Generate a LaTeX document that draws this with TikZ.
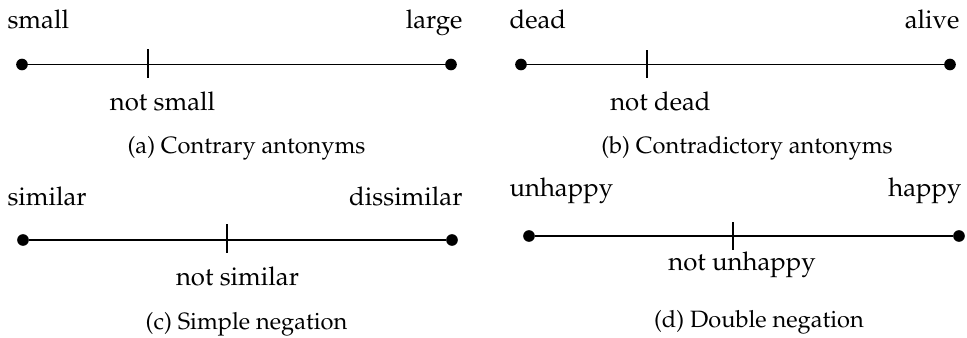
\documentclass[tikz,border=0pt]{standalone}
\usepackage[T1]{fontenc}
\usepackage{mathpazo}
\begin{document}
\begin{tikzpicture}[x=0.377pt,y=-0.377pt,
  dotnode/.style={circle,fill=black,inner sep=0pt,minimum size=4.4pt},
  lbl/.style={inner sep=0pt,font=\fontsize{9.7}{11.6}\selectfont},
  captext/.style={inner sep=0pt,font=\fontsize{8.9}{10.7}\selectfont},
  axis/.style={line width=0.4pt},
  tickmark/.style={line width=0.4pt}]
\useasboundingbox (0,0) rectangle (967,338);
% (a)
\node[dotnode] (a1) at (22,64.5) {};
\node[dotnode] (a2) at (451,64.5) {};
\draw[axis] (a1) -- (a2);
\coordinate (at1) at (148,49); \coordinate (at2) at (148,78);
\draw[tickmark] (at1) -- (at2);
\node[lbl,anchor=base west] (al) at (7,29) {small};
\node[lbl,anchor=base east] (ar) at (463,29) {large};
\node[lbl,anchor=base] (am) at (162.5,111) {not small};
\node[captext,anchor=base] (ac) at (246.5,153) {(a) Contrary antonyms};
% (b)
\node[dotnode] (b1) at (521,64.5) {};
\node[dotnode] (b2) at (950,64.5) {};
\draw[axis] (b1) -- (b2);
\coordinate (bt1) at (647,50); \coordinate (bt2) at (647,78);
\draw[tickmark] (bt1) -- (bt2);
\node[lbl,anchor=base west] (bl) at (509,29) {dead};
\node[lbl,anchor=base east] (br) at (960,29) {alive};
\node[lbl,anchor=base] (bm) at (660.5,111) {not dead};
\node[captext,anchor=base] (bc) at (747,153) {(b) Contradictory antonyms};
% (c)
\node[dotnode] (c1) at (23,240) {};
\node[dotnode] (c2) at (452,240) {};
\draw[axis] (c1) -- (c2);
\coordinate (ct1) at (227,224); \coordinate (ct2) at (227,253);
\draw[tickmark] (ct1) -- (ct2);
\node[lbl,anchor=base west] (cl) at (7,205) {similar};
\node[lbl,anchor=base east] (cr) at (463,205) {dissimilar};
\node[lbl,anchor=base] (cm) at (237.5,286) {not similar};
\node[captext,anchor=base] (cc) at (246.5,329) {(c) Simple negation};
% (d)
\node[dotnode] (d1) at (529,236) {};
\node[dotnode] (d2) at (959,236) {};
\draw[axis] (d1) -- (d2);
\coordinate (dt1) at (733,222); \coordinate (dt2) at (733,250);
\draw[tickmark] (dt1) -- (dt2);
\node[lbl,anchor=base west] (dl) at (509,197) {unhappy};
\node[lbl,anchor=base east] (dr) at (962,197) {happy};
\node[lbl,anchor=base] (dm) at (742,270) {not unhappy};
\node[captext,anchor=base] (dc) at (759,327) {(d) Double negation};
\end{tikzpicture}
\end{document}
